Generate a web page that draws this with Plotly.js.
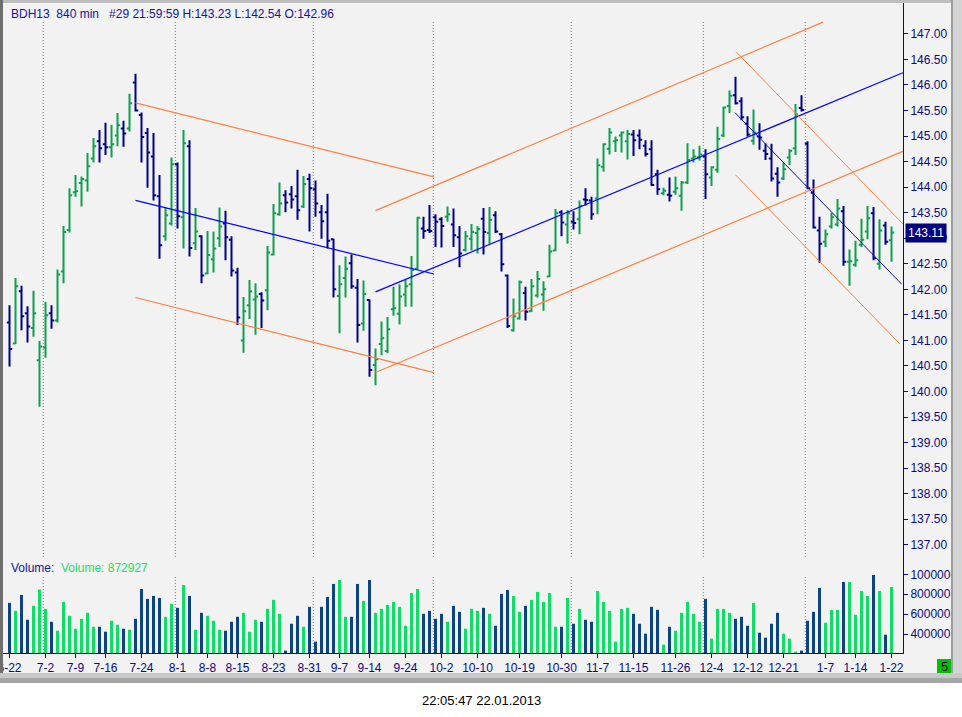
<!DOCTYPE html>
<html><head><meta charset="utf-8">
<script src="https://cdn.plot.ly/plotly-3.0.1.min.js"></script>
<style>html,body{margin:0;padding:0;background:#fff;overflow:hidden}#chart{width:962px;height:717px}</style>
</head><body><div id="chart"></div>
<script>
// ---- data (840-minute bars, BDH13) ----
const opens = [141.35,140.94,141.96,141.53,141.24,140.61,140.86,141.53,141.39,142.35,143.16,143.90,144.08,144.13,144.56,144.90,144.84,144.78,145.01,145.15,145.15,146.05,145.41,145.06,144.60,143.82,143.04,143.29,144.45,143.41,144.80,142.90,143.04,142.31,142.59,143.00,143.29,142.97,142.33,141.00,141.69,141.80,141.91,141.98,142.68,143.47,143.84,143.86,143.82,143.62,144.16,143.96,143.51,143.51,142.98,141.87,142.22,142.51,142.03,141.33,141.79,140.52,140.93,140.79,141.61,141.52,141.90,142.10,142.40,143.19,143.16,143.41,143.37,143.42,143.27,143.02,142.77,142.99,143.10,143.38,143.10,143.45,143.08,142.27,141.20,141.43,141.93,141.57,141.88,141.90,142.25,142.76,143.51,143.27,143.32,143.37,143.76,143.74,143.78,144.40,144.75,144.90,145.01,144.90,145.03,145.01,144.81,144.74,144.25,143.88,143.85,143.91,143.83,144.09,144.56,144.58,144.60,144.19,144.34,145.01,145.59,145.80,145.68,145.24,144.91,144.99,144.71,144.56,144.26,144.17,144.58,144.76,145.55,144.85,143.89,143.15,142.93,143.23,143.27,143.53,142.54,142.48,142.87,143.13,143.49,142.50,143.25,142.96];
const highs = [141.69,142.22,142.07,141.67,141.97,140.99,141.75,141.69,142.39,143.24,143.98,144.24,144.21,144.67,144.96,145.12,145.26,145.22,145.45,145.30,145.83,146.22,145.46,145.16,145.06,144.24,143.60,144.58,144.48,145.12,144.92,143.59,143.06,143.14,143.13,143.60,143.54,143.04,142.42,141.85,142.18,142.12,141.94,142.85,143.67,144.09,143.94,144.02,144.34,144.22,144.26,144.13,143.65,143.87,142.99,142.47,142.64,142.68,142.20,142.17,141.80,140.84,141.37,141.46,142.05,142.10,142.18,142.65,143.42,143.42,143.65,143.47,143.41,143.62,143.58,143.24,143.14,143.28,143.24,143.59,143.61,143.53,143.10,142.29,141.82,142.17,142.05,142.20,142.36,142.16,142.87,143.57,143.55,143.55,143.53,143.74,143.98,143.81,144.56,144.86,145.16,144.99,145.09,145.12,145.12,145.13,144.92,144.92,144.34,143.99,144.19,144.21,144.12,144.86,144.74,144.81,144.74,144.41,145.18,145.58,145.89,146.16,145.76,145.39,145.52,145.25,144.86,144.85,144.39,144.48,144.74,145.63,145.80,144.90,144.15,143.42,143.17,143.50,143.77,143.63,142.78,142.95,143.38,143.63,143.61,143.37,143.32,143.23];
const lows = [140.49,140.93,141.20,140.96,141.07,139.70,140.66,141.23,141.35,142.12,143.11,143.81,143.62,143.91,144.48,144.48,144.63,144.58,144.80,144.79,145.09,145.48,144.48,143.99,143.74,142.60,142.95,143.25,143.19,142.80,142.64,142.77,142.12,142.30,142.33,142.83,142.57,142.25,141.30,140.76,141.42,141.11,141.24,141.59,142.66,143.44,143.51,143.58,143.36,143.59,143.13,143.42,142.99,142.80,141.84,141.14,141.84,142.01,140.96,141.19,140.29,140.12,140.71,140.75,141.48,141.31,141.66,141.66,142.39,142.99,143.10,142.83,142.82,143.32,142.83,142.43,142.74,142.76,142.70,142.68,142.89,143.10,142.35,141.24,141.17,141.41,141.39,141.56,141.84,141.58,142.24,142.75,143.04,142.89,143.17,143.08,143.64,143.36,143.47,144.30,144.64,144.69,144.68,144.54,144.61,144.74,144.60,144.02,143.85,143.84,143.72,143.85,143.54,144.06,144.48,144.52,143.77,144.02,144.28,144.98,145.45,145.62,145.31,144.99,144.83,144.73,144.53,144.11,143.81,144.14,144.43,144.63,145.48,143.96,143.19,142.52,142.83,143.19,143.23,142.46,142.07,142.44,142.83,142.98,142.57,142.39,142.87,142.54];
const closes = [140.83,142.06,141.47,141.27,141.53,140.88,141.49,141.39,142.29,143.12,143.84,143.92,144.16,144.41,144.80,144.76,144.78,144.84,145.21,145.05,145.64,145.50,144.98,144.68,143.84,142.86,143.45,144.45,143.43,144.86,142.81,143.13,142.27,142.67,142.80,143.23,143.02,142.37,141.45,141.57,141.96,141.86,141.78,142.72,143.49,143.68,143.70,143.76,143.55,144.06,143.98,143.68,143.33,142.95,142.00,142.10,142.40,142.06,141.30,141.91,140.42,140.63,141.04,141.22,141.63,141.86,142.06,142.38,143.40,143.14,143.14,143.32,143.24,143.47,143.06,142.70,143.04,143.12,143.18,143.12,143.36,143.13,142.49,141.28,141.47,142.14,141.56,142.06,142.20,142.00,142.74,143.49,143.31,143.49,143.30,143.63,143.75,143.47,144.43,144.84,145.07,144.92,145.07,145.04,144.92,144.93,144.65,144.04,143.96,143.93,143.83,143.98,144.09,144.53,144.60,144.64,144.25,144.39,144.94,145.56,145.79,145.64,145.37,145.03,145.07,144.97,144.65,144.17,144.09,144.35,144.71,145.42,145.51,143.98,143.21,142.89,143.08,143.41,143.58,142.54,142.55,142.57,142.97,143.39,142.61,143.15,142.93,143.11];
const volumes = [713000,633000,793000,543000,683000,847000,653000,523000,433000,723000,583000,453000,553000,613000,473000,473000,423000,533000,493000,453000,443000,553000,853000,753000,783000,763000,573000,703000,663000,893000,783000,443000,613000,583000,533000,443000,433000,523000,573000,613000,423000,543000,523000,653000,743000,603000,233000,503000,583000,473000,673000,323000,673000,773000,903000,943000,573000,573000,903000,733000,943000,613000,653000,693000,723000,673000,483000,813000,853000,603000,633000,553000,603000,523000,683000,623000,453000,653000,633000,663000,603000,483000,803000,843000,783000,623000,683000,743000,823000,723000,813000,473000,473000,763000,503000,653000,543000,523000,833000,723000,633000,323000,653000,663000,603000,503000,403000,673000,643000,293000,473000,433000,613000,723000,603000,523000,753000,353000,653000,653000,613000,553000,573000,483000,713000,413000,363000,503000,613000,403000,353000,223000,233000,533000,623000,863000,513000,643000,643000,923000,923000,593000,833000,783000,993000,833000,393000,872927];
const tickIndex = [0,6,11,16,22,28,33,38,44,50,55,60,66,72,78,85,92,98,104,111,117,123,129,136,141,147];
const tickLabels = ['6-22','7-2','7-9','7-16','7-24','8-1','8-8','8-15','8-23','8-31','9-7','9-14','9-24','10-2','10-10','10-19','10-30','11-7','11-15','11-26','12-4','12-12','12-21','1-7','1-14','1-22'];
const monthStartIndex = [6,28,51,71,94,116,133];
const priceTicks = [137,137.5,138,138.5,139,139.5,140,140.5,141,141.5,142,142.5,143,143.5,144,144.5,145,145.5,146,146.5,147];
const volumeTicks = [400000,600000,800000,1000000];
// trend lines drawn on the chart (bar index, price)
const trendStartIdx   = [21,     21,     21,     61,     61,     61,     121.1,  121,    120.9];
const trendStartPrice = [145.65, 143.74, 141.84, 143.54, 141.95, 140.37, 146.65, 144.24, 145.46];
const trendEndIdx     = [70.75,  70.75,  70.75,  135.6,  148.9,  148.9,  148.9,  148.4,  148.7];
const trendEndPrice   = [144.20, 142.30, 140.37, 147.23, 146.24, 144.70, 143.28, 140.93, 142.10];
const lastPrice = 143.11;

// ---- styling ----
const NAVY = '#0a0a80';
const FONT = 'Arial, "Liberation Sans", sans-serif';
const trendColors = ['#ff8040','#0000ff','#ff8040','#ff8040','#0000ff','#ff8040','#ff8040','#ff8040','#10109a'];
const trendWidths = [1.2,1.2,1.2,1.2,1.2,1.2,1,1,1];
const PL = 3, PR = 903, PT = 3, PB = 653;
const xp = px => (px - PL) / (PR - PL);
const yp = py => (PB - py) / (PB - PT);
const splitY = 558;

const idx = opens.map((_, i) => i);
const volColors = closes.map((c, i) => c > opens[i] ? '#12dc68' : '#0b4383');

const traces = [
  {type: 'ohlc', x: idx, open: opens, high: highs, low: lows, close: closes,
   xaxis: 'x', yaxis: 'y', tickwidth: 0.45, hoverinfo: 'skip',
   increasing: {line: {color: '#0ea04e', width: 2}},
   decreasing: {line: {color: '#00008e', width: 2}}},
  {type: 'bar', x: idx, y: volumes, xaxis: 'x', yaxis: 'y2', width: 0.5,
   marker: {color: volColors, line: {width: 0}}, hoverinfo: 'skip'}
];

const shapes = [];
monthStartIndex.forEach(m => {
  const xv = m - 0.37;
  shapes.push({type: 'line', xref: 'x', yref: 'paper', x0: xv, x1: xv, y0: yp(557), y1: yp(22),
    line: {color: '#7a7a7a', width: 1, dash: '1px,2px'}, layer: 'below'});
  shapes.push({type: 'line', xref: 'x', yref: 'paper', x0: xv, x1: xv, y0: yp(653), y1: yp(576),
    line: {color: '#7a7a7a', width: 1, dash: '1px,2px'}, layer: 'below'});
});
trendStartIdx.forEach((s, k) => {
  shapes.push({type: 'line', xref: 'x', yref: 'y', x0: s, y0: trendStartPrice[k], x1: trendEndIdx[k], y1: trendEndPrice[k],
    line: {color: trendColors[k], width: trendWidths[k]}, layer: 'above'});
});
// window frame
const rect = (x0, y0, x1, y1, color) => ({type: 'rect', xref: 'paper', yref: 'paper',
  x0: xp(x0), x1: xp(x1), y0: yp(y1), y1: yp(y0), fillcolor: color, line: {width: 0}, layer: 'above'});
shapes.push(rect(0, 0, 962, 3, '#bdbdbd'));
shapes.push(rect(0, 0, 3, 676, '#6e6e6e'));
shapes.push(rect(951, 0, 962, 676, '#d4d4d4'));
shapes.push(rect(951, 0, 953, 676, '#9c9c9c'));
shapes.push(rect(0, 673, 962, 678, '#c8c8c8'));
shapes.push(rect(0, 678, 962, 683, '#a6a6a6'));
shapes.push(rect(0, 683, 962, 717, '#ffffff'));
shapes.push(rect(937, 659, 951, 673, '#00c000'));

const annotations = [
  {xref: 'paper', yref: 'paper', x: xp(9), y: yp(14), xanchor: 'left', yanchor: 'middle', showarrow: false,
   text: 'BDH13\u00a0\u00a0840 min\u00a0\u00a0\u00a0#29 21:59:59 H:143.23 L:142.54 O:142.96',
   font: {family: FONT, size: 12, color: '#141496'}},
  {xref: 'paper', yref: 'paper', x: xp(9), y: yp(568), xanchor: 'left', yanchor: 'middle', showarrow: false,
   text: 'Volume:\u00a0\u00a0<span style="color:#22dd66">Volume: ' + volumes[volumes.length - 1] + '</span>',
   font: {family: FONT, size: 12, color: '#141496'}},
  {xref: 'paper', yref: 'y', x: 1, y: lastPrice, xanchor: 'left', yanchor: 'middle', xshift: 2, showarrow: false,
   text: lastPrice.toFixed(2), bgcolor: '#000080', borderpad: 2,
   font: {family: FONT, size: 12, color: '#ffffff'}},
  {xref: 'paper', yref: 'paper', x: xp(481), y: yp(700), xanchor: 'center', yanchor: 'middle', showarrow: false,
   text: '22:05:47 22.01.2013', font: {family: FONT, size: 13, color: '#000000'}},
  {xref: 'paper', yref: 'paper', x: xp(944), y: yp(666), xanchor: 'center', yanchor: 'middle', showarrow: false,
   text: '5', font: {family: FONT, size: 13, color: '#000000'}}
];

const layout = {
  width: 962, height: 717,
  margin: {l: PL, r: 962 - PR, t: PT, b: 717 - PB, pad: 0},
  paper_bgcolor: '#f2f2f2', plot_bgcolor: '#f2f2f2',
  showlegend: false, dragmode: false,
  font: {family: FONT, size: 12, color: NAVY},
  xaxis: {range: [(PL - 9.5) / 6, (PR - 9.5) / 6], anchor: 'y2', showgrid: false, zeroline: false,
    showline: true, linecolor: NAVY, linewidth: 1, ticks: 'outside', ticklen: 4, tickcolor: NAVY,
    tickmode: 'array', tickvals: tickIndex, ticktext: tickLabels, ticklabeloverflow: 'allow',
    tickfont: {family: FONT, size: 12, color: NAVY}, rangeslider: {visible: false}, fixedrange: true},
  yaxis: {domain: [yp(splitY), 1], range: [147 - (splitY - 33.9) / 51.08, 147 + (33.9 - PT) / 51.08],
    side: 'right', anchor: 'x', showgrid: false, zeroline: false, showline: true, linecolor: NAVY, linewidth: 1,
    ticks: 'outside', ticklen: 4, tickcolor: NAVY, tickmode: 'array', tickvals: priceTicks,
    ticktext: priceTicks.map(v => v.toFixed(2)), tickfont: {family: FONT, size: 12, color: NAVY}, fixedrange: true},
  yaxis2: {domain: [0, yp(splitY)], range: [209000, 1164000], side: 'right', anchor: 'x',
    showgrid: false, zeroline: false, showline: true, linecolor: NAVY, linewidth: 1,
    ticks: 'outside', ticklen: 4, tickcolor: NAVY, tickmode: 'array', tickvals: volumeTicks,
    ticktext: volumeTicks.map(v => String(v)), tickfont: {family: FONT, size: 12, color: NAVY}, fixedrange: true},
  shapes: shapes,
  annotations: annotations
};

Plotly.newPlot('chart', traces, layout, {displayModeBar: false, staticPlot: true});
</script>
</body></html>
